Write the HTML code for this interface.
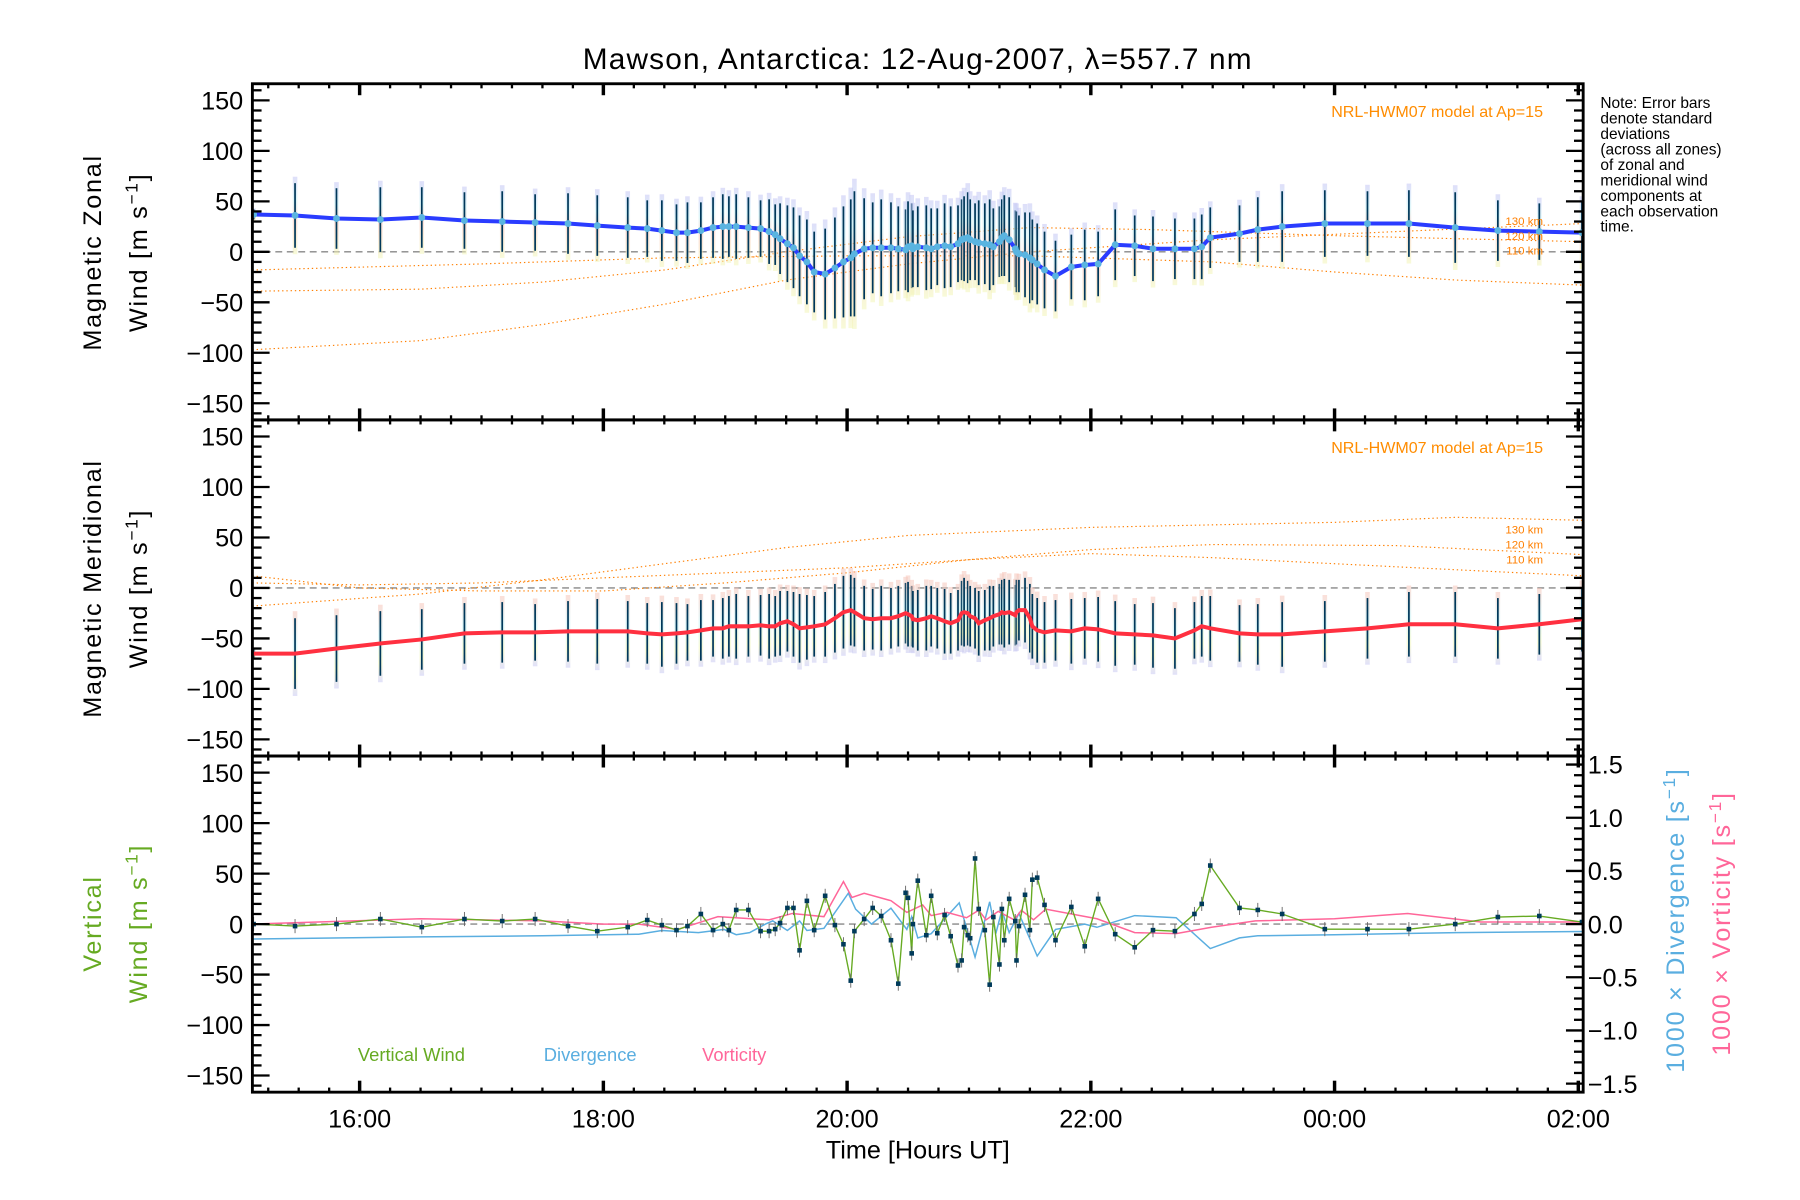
<!DOCTYPE html>
<html><head><meta charset="utf-8"><style>
html,body{margin:0;padding:0;background:#fff;}
svg{display:block;}
text{font-family:"Liberation Sans",sans-serif;}
</style></head><body>
<svg id="chart" xmlns="http://www.w3.org/2000/svg" width="1800" height="1200" viewBox="0 0 1569 1046" preserveAspectRatio="none">
<defs>
<linearGradient id="g1" x1="0" y1="0" x2="0" y2="1"><stop offset="0" stop-color="#c4c4f4"/><stop offset="0.3" stop-color="#c4f0f4"/><stop offset="0.55" stop-color="#f8c4b8"/><stop offset="1" stop-color="#f2f6b8"/></linearGradient>
<linearGradient id="g2" x1="0" y1="0" x2="0" y2="1"><stop offset="0" stop-color="#f8c4b8"/><stop offset="0.4" stop-color="#c4f0f4"/><stop offset="0.75" stop-color="#f2f6b8"/><stop offset="1" stop-color="#c8c8f4"/></linearGradient>
</defs>
<text x="800" y="60" font-size="26" text-anchor="middle" letter-spacing="1">Mawson, Antarctica: 12-Aug-2007, λ=557.7 nm</text>
<g id="layer"></g>
</svg>
<script>
const T=[15.13,15.47,15.81,16.17,16.51,16.86,17.17,17.44,17.71,17.95,18.2,18.36,18.48,18.60,18.69,18.80,18.90,18.98,19.03,19.09,19.19,19.29,19.36,19.41,19.45,19.51,19.56,19.61,19.67,19.73,19.82,19.90,19.97,20.03,20.06,20.14,20.21,20.28,20.36,20.42,20.48,20.50,20.53,20.54,20.58,20.65,20.69,20.74,20.80,20.85,20.91,20.94,20.96,20.99,21.01,21.05,21.08,21.13,21.17,21.20,21.25,21.27,21.29,21.33,21.38,21.39,21.41,21.46,21.50,21.52,21.56,21.62,21.71,21.84,21.95,22.06,22.20,22.36,22.51,22.69,22.85,22.91,22.98,23.22,23.37,23.57,23.92,24.27,24.61,24.99,25.34,25.68,26.03];
const zonal=[37,36,33,32,34,31,30,29,28,26,24,23,21,19,19,21,24,25,25,25,24,23,20,17,13,8,4,-4,-10,-20,-22,-16,-10,-6,-2,3,4,4,4,3,2,5,6,3,5,4,3,5,6,5,8,12,13,14,12,10,9,8,7,5,10,14,16,12,3,0,-2,-3,-6,-8,-12,-18,-24,-15,-13,-12,7,6,3,3,3,5,14,18,22,25,28,28,28,24,21,20,19];
const zonalSd=[5,32,30,32,30,28,30,28,30,30,30,28,30,28,30,28,30,32,30,32,30,28,32,30,35,38,40,40,42,40,45,50,55,58,62,50,45,48,45,42,40,45,42,38,40,42,40,38,42,40,38,40,42,45,40,38,42,40,45,38,35,38,40,42,38,40,38,42,45,40,40,38,35,32,35,32,35,30,32,30,30,32,30,28,32,35,33,32,33,35,30,28,30];
const merid=[-65,-65,-60,-55,-51,-45,-44,-44,-43,-43,-43,-45,-46,-45,-44,-42,-40,-40,-38,-38,-38,-37,-38,-38,-35,-33,-36,-40,-39,-38,-36,-30,-24,-22,-24,-30,-31,-30,-30,-28,-25,-26,-28,-31,-32,-30,-28,-30,-33,-35,-32,-25,-24,-25,-28,-30,-35,-32,-30,-28,-26,-24,-25,-24,-27,-24,-22,-22,-30,-38,-42,-44,-42,-43,-40,-41,-45,-46,-47,-50,-42,-38,-40,-45,-46,-46,-43,-40,-36,-36,-40,-36,-31];
const meridSd=[5,35,33,32,30,30,30,28,30,32,30,30,32,30,28,30,28,30,30,32,30,30,32,30,32,30,32,34,32,30,32,34,36,35,34,32,30,32,30,30,30,32,30,28,30,32,30,30,32,30,30,32,34,32,30,30,32,30,32,30,30,32,34,32,30,32,30,32,34,32,32,30,30,32,30,32,32,30,32,30,28,30,32,28,30,32,30,30,32,32,30,30,32];
const vertW=[0,-2,0,5,-3,5,3,5,-2,-7,-3,4,-1,-6,-2,10,-6,0,-6,14,14,-7,-7,-5,1,16,16,-26,23,-6,28,-1,-20,-56,-7,5,16,8,-16,-59,31,26,-29,0,43,-11,28,-9,9,-12,-41,-36,-3,-11,-14,65,15,-6,-60,7,-40,15,-16,25,3,-36,-2,29,-6,44,46,19,-16,17,-22,25,-10,-23,-6,-7,10,20,58,16,14,10,-5,-5,-5,0,7,8,2];
const divT=[15.12,16.5,17.5,18.29,18.48,18.78,18.99,19.09,19.2,19.33,19.39,19.51,19.61,19.67,19.81,20.01,20.07,20.2,20.36,20.49,20.53,20.58,20.69,20.92,21.05,21.17,21.22,21.27,21.33,21.41,21.56,21.71,21.95,22.05,22.36,22.7,22.98,23.22,23.37,24.0,25.0,26.04];
const divV=[-0.14,-0.12,-0.11,-0.095,-0.06,-0.08,-0.05,-0.10,-0.08,0,0.03,-0.06,0.03,-0.06,-0.04,0.29,0.14,0,0.15,-0.05,0.07,-0.13,-0.09,0.2,-0.31,0.21,-0.09,0.13,-0.08,0.1,-0.3,-0.05,0,-0.03,0.08,0.06,-0.23,-0.13,-0.11,-0.1,-0.08,-0.07];
const vorT=[15.12,16.5,17.5,18.0,18.29,18.61,18.94,19.36,19.55,19.81,19.97,20.04,20.14,20.36,20.49,20.62,20.69,20.82,20.98,21.08,21.14,21.24,21.37,21.43,21.53,21.63,22.05,22.36,22.7,22.99,23.35,24.0,24.6,25.2,26.04];
const vorV=[0,0.05,0.03,0,0,-0.05,0.07,0.04,0.1,0.07,0.4,0.25,0.29,0.22,0.11,0.18,0.08,0.11,0.06,0.13,0.04,0.12,0.04,0.13,0.04,0.14,0.05,-0.08,-0.09,-0.03,0.03,0.05,0.1,0.02,0.02];
const modelZ1=[[15.12,-97],[16.5,-88],[17.5,-72],[18.5,-52],[19.5,-28],[20.5,-12],[21.5,0],[23,12],[24.5,20],[26.04,28]];
const modelZ2=[[15.12,-39],[16.5,-37],[17.5,-30],[18.5,-18],[19.5,0],[20.5,15],[21.5,24],[22.5,22],[24,16],[25,13],[26.04,10]];
const modelZ3=[[15.12,-18],[17,-12],[18.5,-6],[20,-4],[21.5,-4],[23,-10],[24,-20],[25,-28],[26.04,-33]];
const modelM1=[[15.12,-18],[16.5,-6],[17.5,8],[18.5,24],[19.5,40],[20.5,52],[22,60],[24,65],[25,70],[26.04,67]];
const modelM2=[[15.12,12],[16,0],[17,-3],[18,-3],[19,5],[20,15],[21,28],[22,38],[23,43],[24.5,42],[26.04,33]];
const modelM3=[[15.12,5],[16,3],[17,5],[18,10],[19,15],[20,20],[21,28],[22,34],[23,30],[24,24],[25,18],[26.04,12]];
const yTicks=[150,100,50,0,-50,-100,-150];
const yTickLabels=["150","100","50","0","\u221250","\u2212100","\u2212150"];
const rTicks=[1.5,1.0,0.5,0.0,-0.5,-1.0,-1.5];
const rTickLabels=["1.5","1.0","0.5","0.0","\u22120.5","\u22121.0","\u22121.5"];
const xTicks=[16,18,20,22,24,26];
const xTickLabels=["16:00","18:00","20:00","22:00","00:00","02:00"];

const NS="http://www.w3.org/2000/svg";
const L=220,R=1380,T0=15.12,T1=26.04;
const panels=[73,366,659],PH=293;
const layer=document.getElementById('layer');
function X(t){return L+(t-T0)/(T1-T0)*(R-L);}
function Y(p,v){return panels[p]+PH/2-v*0.88;}
function YR(v){return panels[2]+PH/2-v*92.7;}
function mk(tag,attrs,parent){const e=document.createElementNS(NS,tag);for(const k in attrs)e.setAttribute(k,attrs[k]);(parent||layer).appendChild(e);return e;}
function txt(s,attrs,parent){const e=mk('text',attrs,parent);e.textContent=s;return e;}
function pts(arr){return arr.map(a=>a.join(',')).join(' ');}

for(let p=0;p<3;p++){const c=mk('clipPath',{id:'c'+p});mk('rect',{x:L,y:panels[p],width:R-L,height:PH},c);}

for(let p=0;p<3;p++){
  const z=mk('line',{x1:L,x2:R,y1:Y(p,0),y2:Y(p,0),stroke:'#888','stroke-width':1.2,'stroke-dasharray':'6,4'});
  
  
}

function model(p,arr,name){
  const g=mk('polyline',{points:pts(arr.map(a=>[X(a[0]),Y(p,a[1])])),fill:'none',stroke:'#ff7f00','stroke-width':1,'stroke-dasharray':'1.2,2.5','clip-path':'url(#c'+p+')'});
  
  
}
model(0,modelZ1,'model-zonal-130km');model(0,modelZ2,'model-zonal-120km');model(0,modelZ3,'model-zonal-110km');
model(1,modelM1,'model-merid-130km');model(1,modelM2,'model-merid-120km');model(1,modelM3,'model-merid-110km');

function bars(p,vals,sds,grad,name){
  const g=mk('g',{'clip-path':'url(#c'+p+')'});
  
  
  for(let i=0;i<T.length;i++){
    const x=X(T[i]),y1=Y(p,vals[i]+sds[i]*1.2),y2=Y(p,vals[i]-sds[i]*1.2);
    const b=mk('rect',{x:x-2,y:y1,width:4,height:y2-y1,fill:'url(#'+grad+')',opacity:0.55},g);
    
    
    const l=mk('line',{x1:x,x2:x,y1:Y(p,vals[i]+sds[i]),y2:Y(p,vals[i]-sds[i]),stroke:'#00385a','stroke-width':1.5},g);
    
    
  }
}
bars(0,zonal,zonalSd,'g1','zonal-error-bars');
bars(1,merid,meridSd,'g2','meridional-error-bars');

const zl=mk('polyline',{points:pts(T.map((t,i)=>[X(t),Y(0,zonal[i])])),fill:'none',stroke:'#2a3cff','stroke-width':3.5,'clip-path':'url(#c0)'});


T.forEach((t,i)=>{const c=mk('circle',{cx:X(t),cy:Y(0,zonal[i]),r:3,fill:'#5ab4e0','clip-path':'url(#c0)'});
  
  });
const ml=mk('polyline',{points:pts(T.map((t,i)=>[X(t),Y(1,merid[i])])),fill:'none',stroke:'#ff3040','stroke-width':3.5,'clip-path':'url(#c1)'});



const dl=mk('polyline',{points:pts(divT.map((t,i)=>[X(t),YR(divV[i])])),fill:'none',stroke:'#5aaee0','stroke-width':1.3,'clip-path':'url(#c2)'});


const vl=mk('polyline',{points:pts(vorT.map((t,i)=>[X(t),YR(vorV[i])])),fill:'none',stroke:'#ff6699','stroke-width':1.3,'clip-path':'url(#c2)'});


const wl=mk('polyline',{points:pts(T.map((t,i)=>[X(t),Y(2,vertW[i])])),fill:'none',stroke:'#66aa22','stroke-width':1.2,'clip-path':'url(#c2)'});


T.forEach((t,i)=>{
  const e=mk('line',{x1:X(t),x2:X(t),y1:Y(2,vertW[i]+7),y2:Y(2,vertW[i]-7),stroke:'#666','stroke-width':0.8,'clip-path':'url(#c2)'});
  
  
  const c=mk('rect',{x:X(t)-2,y:Y(2,vertW[i])-2,width:4,height:4,fill:'#003a5a','clip-path':'url(#c2)'});
  
  
});

for(let p=0;p<3;p++){
  const f=mk('rect',{x:L,y:panels[p],width:R-L,height:PH,fill:'none',stroke:'#000','stroke-width':2.5});
  
  
  for(let v=-160;v<=160;v+=10){
    const y=Y(p,v),maj=v%50===0,len=maj?15:8;
    mk('line',{x1:L,x2:L+len,y1:y,y2:y,stroke:'#000','stroke-width':2});
    if(p<2) mk('line',{x1:R,x2:R-len,y1:y,y2:y,stroke:'#000','stroke-width':2});
  }
  for(let m=0;m<=44;m++){
    const t=15.0+m*0.25;if(t<T0||t>T1)continue;
    const x=X(t),maj=Math.abs(t-Math.round(t/2)*2)<1e-6,len=maj?10:4;
    mk('line',{x1:x,x2:x,y1:panels[p]+PH,y2:panels[p]+PH-len,stroke:'#000','stroke-width':maj?3:2});
    mk('line',{x1:x,x2:x,y1:panels[p],y2:panels[p]+len,stroke:'#000','stroke-width':maj?3:2});
  }
  yTicks.forEach((v,i)=>{
    const e=txt(yTickLabels[i],{x:212,y:Y(p,v)+8,'font-size':22,'text-anchor':'end'});
    
    
  });
}
for(let k=-15;k<=15;k++){
  const v=k/10,y=YR(v),maj=k%5===0,len=maj?15:8;
  mk('line',{x1:R,x2:R-len,y1:y,y2:y,stroke:'#000','stroke-width':2});
}
rTicks.forEach((v,i)=>{
  const e=txt(rTickLabels[i],{x:1384,y:YR(v)+8,'font-size':22});
  
  
});
xTicks.forEach((t,i)=>{
  const e=txt(xTickLabels[i],{x:X(t),y:983,'font-size':22,'text-anchor':'middle'});
  
  
});
</script>
<script>
const s=document.getElementById('chart');
const ns="http://www.w3.org/2000/svg";
function T2(str,a,name,col){const e=document.createElementNS(ns,'text');for(const k in a)e.setAttribute(k,a[k]);if(col)e.setAttribute('fill',col);e.innerHTML=str;
  
  
  s.appendChild(e);}
T2('Time [Hours UT]',{x:800,y:1010,'font-size':22,'text-anchor':'middle'},'x-axis-title');
T2('Magnetic Zonal',{transform:'translate(88,220) rotate(-90)','font-size':22,'text-anchor':'middle','letter-spacing':'1.5'},'zonal-y-title');
T2('Wind [m s<tspan dy="-8" font-size="15">−1</tspan><tspan dy="8">]</tspan>',{transform:'translate(128,220) rotate(-90)','font-size':22,'text-anchor':'middle','letter-spacing':'1.5'},'zonal-y-units');
T2('Magnetic Meridional',{transform:'translate(88,513) rotate(-90)','font-size':22,'text-anchor':'middle','letter-spacing':'1.5'},'meridional-y-title');
T2('Wind [m s<tspan dy="-8" font-size="15">−1</tspan><tspan dy="8">]</tspan>',{transform:'translate(128,513) rotate(-90)','font-size':22,'text-anchor':'middle','letter-spacing':'1.5'},'meridional-y-units');
T2('Vertical',{transform:'translate(88,805) rotate(-90)','font-size':22,'text-anchor':'middle','letter-spacing':'1.5'},'vertical-y-title','#66aa22');
T2('Wind [m s<tspan dy="-8" font-size="15">−1</tspan><tspan dy="8">]</tspan>',{transform:'translate(128,805) rotate(-90)','font-size':22,'text-anchor':'middle','letter-spacing':'1.5'},'vertical-y-units','#66aa22');
T2('1000 × Divergence [s<tspan dy="-8" font-size="15">−1</tspan><tspan dy="8">]</tspan>',{transform:'translate(1468,802) rotate(-90)','font-size':22,'text-anchor':'middle','letter-spacing':'1.5'},'divergence-axis-title','#5aaee0');
T2('1000 × Vorticity [s<tspan dy="-8" font-size="15">−1</tspan><tspan dy="8">]</tspan>',{transform:'translate(1508,805) rotate(-90)','font-size':22,'text-anchor':'middle','letter-spacing':'1.5'},'vorticity-axis-title','#ff6699');
T2('NRL-HWM07 model at Ap=15',{x:1345,y:102,'font-size':14,'text-anchor':'end'},'model-label-zonal','#ff8c00');
T2('NRL-HWM07 model at Ap=15',{x:1345,y:395,'font-size':14,'text-anchor':'end'},'model-label-meridional','#ff8c00');
[['130 km',196],['120 km',209],['110 km',222],['130 km',465],['120 km',478],['110 km',491]].forEach(a=>T2(a[0],{x:1345,y:a[1],'font-size':10,'text-anchor':'end'},'altitude-label','#ff7f00'));
['Note: Error bars','denote standard','deviations','(across all zones)','of zonal and','meridional wind','components at','each observation','time.'].forEach((l,i)=>T2(l,{x:1395,y:94+i*13.5,'font-size':13.5},'note-line'));
T2('Vertical Wind',{x:312,y:925,'font-size':16},'legend-vertical-wind','#66aa22');
T2('Divergence',{x:474,y:925,'font-size':16},'legend-divergence','#5aaee0');
T2('Vorticity',{x:612,y:925,'font-size':16},'legend-vorticity','#ff6699');
</script>
</body></html>
